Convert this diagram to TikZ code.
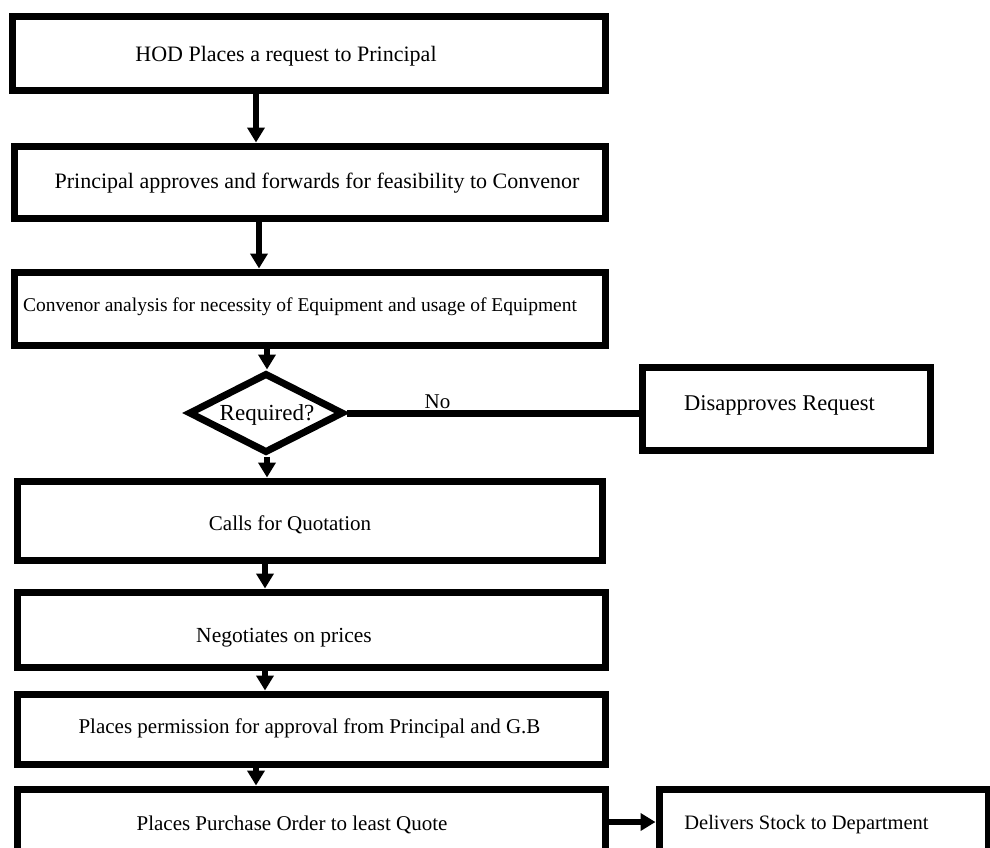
\documentclass[tikz,border=0pt]{standalone}
\usepackage{fontspec}
\setmainfont{Liberation Serif}
\usetikzlibrary{arrows.meta,shapes.geometric,calc}
\begin{document}
\begin{tikzpicture}[x=1pt,y=-1pt,
  box/.style={draw, line width=7pt, rectangle, inner sep=0pt},
  lbl/.style={font=\fontsize{21}{23}\selectfont, inner sep=0pt},
  arr/.style={line width=6pt, -{Triangle[width=17pt,length=15pt]}},
  conn/.style={line width=7pt},
]
\clip (0,0) rectangle (990,847);
\fill[white] (0,0) rectangle (990,847);

% boxes
\node[box, minimum width=593pt, minimum height=74pt] (b1) at (308.5,53) {};
\node[box, minimum width=591pt, minimum height=72pt] (b2) at (309.5,182) {};
\node[box, minimum width=591pt, minimum height=73pt] (b3) at (309.5,308.5) {};
\node[box, diamond, minimum width=155pt, minimum height=80pt] (dia) at (266,413) {};
\node[box, minimum width=288pt, minimum height=83pt] (dis) at (786,408.5) {};
\node[box, minimum width=585pt, minimum height=79pt] (b4) at (309.5,520.5) {};
\node[box, minimum width=588pt, minimum height=75pt] (b5) at (311,629.5) {};
\node[box, minimum width=588pt, minimum height=70pt] (b6) at (311,729) {};
\node[box, minimum width=588pt, minimum height=76pt] (b7) at (311,827) {};
\node[box, minimum width=329pt, minimum height=73pt] (del) at (823.5,825.5) {};

% texts
\node[lbl, font=\fontsize{22}{24}\selectfont] (t1) at (286,56) {HOD Places a request to Principal};
\node[lbl, font=\fontsize{22}{24}\selectfont] (t2) at (317,183) {Principal approves and forwards for feasibility to Convenor};
\node[lbl, font=\fontsize{19.5}{22}\selectfont] (t3) at (300,307) {Convenor analysis for necessity of Equipment and usage of Equipment};
\node[lbl, font=\fontsize{23}{25}\selectfont] (tq) at (267,415) {Required?};
\node[lbl] (tno) at (437.5,402) {No};
\node[lbl, font=\fontsize{22.5}{24}\selectfont] (tdis) at (779.5,405) {Disapproves Request};
\node[lbl] (t4) at (290,525) {Calls for Quotation};
\node[lbl, font=\fontsize{21.5}{23}\selectfont] (t5) at (284,638) {Negotiates on prices};
\node[lbl] (t6) at (309.5,728) {Places permission for approval from Principal and G.B};
\node[lbl] (t7) at (292,825) {Places Purchase Order to least Quote};
\node[lbl, font=\fontsize{20.5}{22}\selectfont] (tdel) at (806.5,825) {Delivers Stock to Department};

% arrow x positions
\coordinate (xa) at (256,0);
\coordinate (xb) at (259,0);
\coordinate (xc) at (267,0);
\coordinate (xd) at (265,0);
\coordinate (xe) at (256,0);
\coordinate (yd) at (0,822);

\draw[arr] (b1.south -| xa) -- (b2.north -| xa);
\draw[arr] (b2.south -| xb) -- (b3.north -| xb);
\draw[arr] (b3.south -| xc) -- (dia.north -| xc);
\draw[arr] (dia.south -| xc) -- (b4.north -| xc);
\draw[arr] (b4.south -| xd) -- (b5.north -| xd);
\draw[arr] (b5.south -| xd) -- (b6.north -| xd);
\draw[arr] (b6.south -| xe) -- (b7.north -| xe);
\draw[conn] (dia.east) -- (dia.east -| dis.west);
\draw[arr] (b7.east |- yd) -- (del.west |- yd);
\end{tikzpicture}
\end{document}
